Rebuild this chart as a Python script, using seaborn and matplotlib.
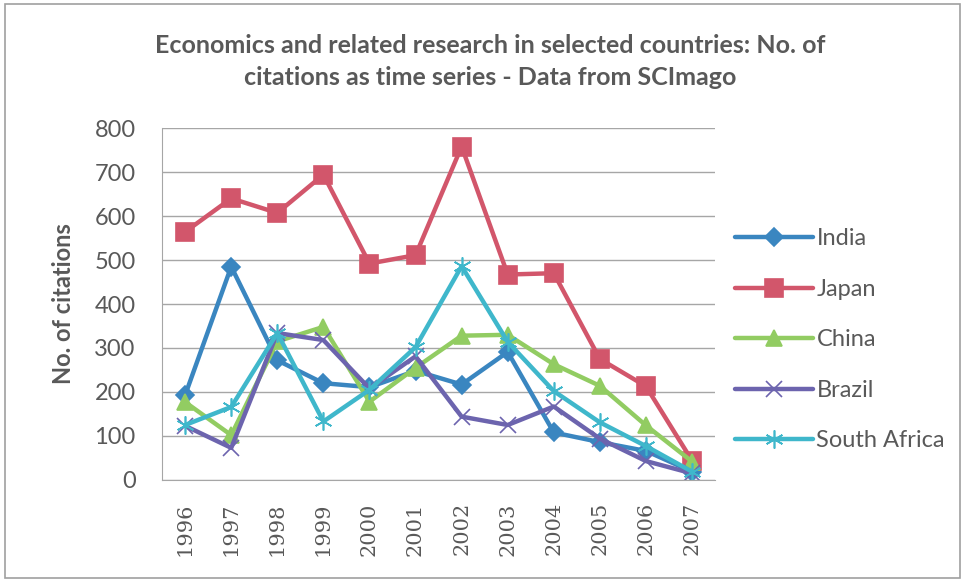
import pandas as pd
import seaborn as sns
import matplotlib.pyplot as plt
from matplotlib.patches import Rectangle

years = ["1996", "1997", "1998", "1999", "2000", "2001",
         "2002", "2003", "2004", "2005", "2006", "2007"]
india = [193, 485, 272, 220, 211, 248, 217, 291, 108, 86, 66, 19]
japan = [564, 640, 607, 694, 492, 511, 758, 467, 470, 275, 213, 44]
china = [177, 102, 315, 348, 178, 255, 328, 330, 263, 214, 124, 42]
brazil = [123, 73, 334, 318, 208, 281, 144, 125, 167, 94, 43, 15]
south_africa = [125, 166, 334, 133, 205, 302, 486, 314, 202, 131, 77, 19]

series = {
    "India": india,
    "Japan": japan,
    "China": china,
    "Brazil": brazil,
    "South Africa": south_africa,
}
colors = {
    "India": "#3A86C0",
    "Japan": "#D2566B",
    "China": "#92CC62",
    "Brazil": "#6C64AE",
    "South Africa": "#3FB7CB",
}
markers = {
    "India": "D",
    "Japan": "s",
    "China": "^",
    "Brazil": "x",
    "South Africa": (6, 2, 0),
}
msizes = {"India": 9, "Japan": 13, "China": 12, "Brazil": 11, "South Africa": 13}

rows = []
for name, vals in series.items():
    for i, v in enumerate(vals):
        rows.append({"idx": i, "country": name, "citations": v})
df = pd.DataFrame(rows)

sns.set_style("white")
plt.rcParams["font.family"] = ["Lato", "DejaVu Sans"]
text_color = "#595959"

fig = plt.figure(figsize=(9.65, 5.83), dpi=100)
ax = fig.add_axes([0.168, 0.1767, 0.573, 0.6037])

for name in series:
    sub = df[df["country"] == name]
    sns.lineplot(data=sub, x="idx", y="citations", ax=ax, color=colors[name],
                 linewidth=3.2, marker=markers[name], markersize=msizes[name],
                 markeredgecolor=colors[name], markeredgewidth=1.2,
                 label=name)

ax.set_xlim(-0.5, len(years) - 0.5)
ax.set_ylim(0, 800)
ax.set_yticks(range(0, 801, 100))
ax.set_xticks(range(len(years)))
ax.set_xticklabels(years, rotation=90, family=["DejaVu Serif"], fontsize=15)
ax.yaxis.grid(True, color="#A6A6A6", linewidth=1.0)
ax.tick_params(axis="both", colors=text_color, length=4)
ax.tick_params(axis="y", labelsize=17, pad=15)
ax.tick_params(axis="x", pad=12)
for side in ["top", "right"]:
    ax.spines[side].set_visible(False)
for side in ["left", "bottom"]:
    ax.spines[side].set_color("#A6A6A6")
ax.set_xlabel("")
ax.set_ylabel("No. of citations", fontsize=17, fontweight="bold",
              color=text_color, labelpad=14)

ax.legend(loc="center left", bbox_to_anchor=(1.036, 0.398), frameon=False,
          fontsize=17, labelcolor=text_color, handlelength=3.3,
          handletextpad=0.15, labelspacing=1.25, borderaxespad=0,
          borderpad=0)

fig.text(0.508, 0.8945, "Economics and related research in selected countries: No. of\n"
         "citations as time series - Data from SCImago",
         ha="center", va="center", fontsize=18, fontweight="bold",
         color=text_color, linespacing=1.45)

fig.patches.append(Rectangle((0.005, 0.008), 0.99, 0.985, transform=fig.transFigure,
                             fill=False, edgecolor="#A0A0A0", linewidth=1.2))

fig.savefig("out.png", dpi=100)
